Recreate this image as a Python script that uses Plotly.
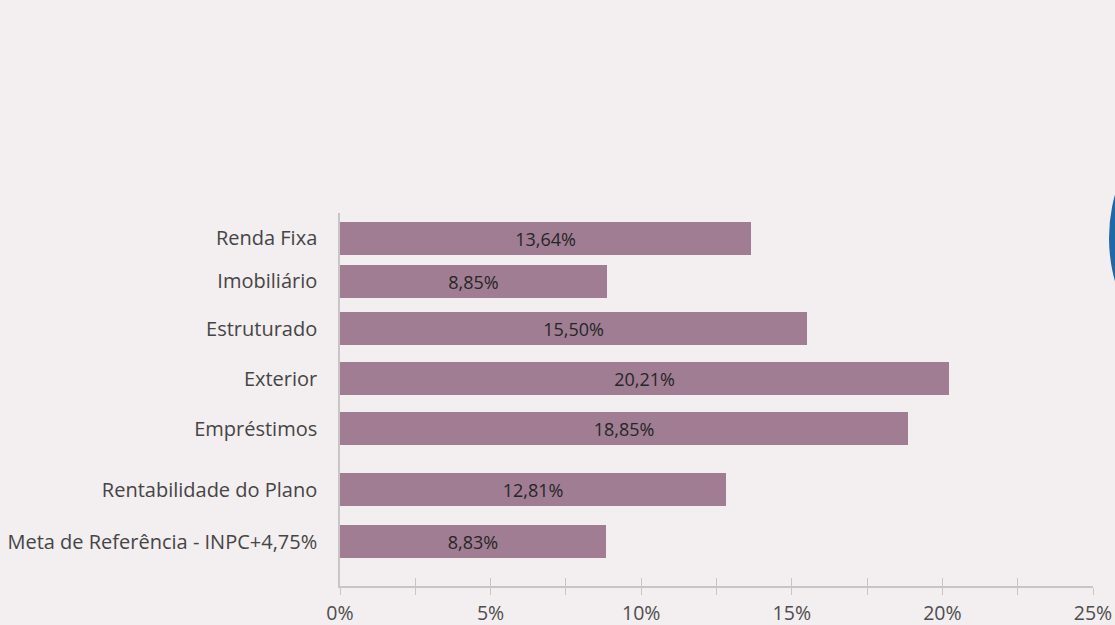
import plotly.graph_objects as go

categories = ["Renda Fixa", "Imobiliário", "Estruturado", "Exterior", "Empréstimos",
              "Rentabilidade do Plano", "Meta de Referência - INPC+4,75%"]
values = [13.64, 8.85, 15.50, 20.21, 18.85, 12.81, 8.83]
tick_values = [0, 2.5, 5, 7.5, 10, 12.5, 15, 17.5, 20, 22.5, 25]
tick_labels = ["0%", "", "5%", "", "10%", "", "15%", "", "20%", "", "25%"]

# layout: row positions (gap before the plan rows)
row_pos = [0, 0.86, 1.81, 2.81, 3.81, 5.03, 6.07]

BG = "#f3eef0"
BAR = "#a07d93"
AXIS = "#c9c5c7"
FONT = "Open Sans"

labels = [f"{v:.2f}".replace(".", ",") + "%" for v in values]

fig = go.Figure()
fig.add_trace(go.Bar(
    x=values, y=row_pos, orientation="h", width=0.66,
    marker=dict(color=BAR, line=dict(width=0)),
    text=labels, textposition="inside", insidetextanchor="middle", constraintext="none",
    textfont=dict(family=FONT, size=18, color="#262626"),
    hoverinfo="skip", showlegend=False,
))
# invisible trace to host the overlay axis (inward ticks)
fig.add_trace(go.Scatter(x=[0, 25], y=[0, 0], xaxis="x2", mode="markers",
                         marker=dict(opacity=0), hoverinfo="skip", showlegend=False))

fig.update_layout(
    width=1115, height=625,
    paper_bgcolor=BG, plot_bgcolor=BG,
    margin=dict(l=340, r=22, t=213, b=39, autoexpand=False),
    font=dict(family=FONT, size=19, color="#4a4a4a"),
    xaxis=dict(range=[0, 25], tickvals=tick_values, ticktext=tick_labels, automargin=False,
               showgrid=False, zeroline=False, showline=True, linecolor=AXIS, linewidth=1.5,
               ticks="outside", ticklen=7, tickcolor=AXIS, tickwidth=1.2, ticklabelstandoff=2,
               tickfont=dict(family=FONT, size=19.5, color="#4d4d4d"), fixedrange=True),
    xaxis2=dict(range=[0, 25], overlaying="x", side="bottom", anchor="y", automargin=False,
                tickvals=tick_values, showticklabels=False, showgrid=False, zeroline=False,
                ticks="inside", ticklen=8, tickcolor=AXIS, tickwidth=1.2, showline=False),
    yaxis=dict(range=[6.96, -0.5], tickvals=row_pos, ticktext=categories, automargin=False,
               showgrid=False, zeroline=False, showline=True, linecolor=AXIS, linewidth=1.5,
               ticks="", ticklabelstandoff=17,
               tickfont=dict(family=FONT, size=20, color="#454545"), fixedrange=True),
    bargap=0,
    shapes=[dict(type="circle", xref="paper", yref="paper",
                 x0=(1109 - 340) / 753, x1=(1429 - 340) / 753,
                 y0=(625 - 39 - 398) / 373, y1=(625 - 39 - 78) / 373,
                 fillcolor="#2367a6", line=dict(width=0), layer="above")],
)

fig.write_html("out.html", config={"displayModeBar": False},
               post_script="document.body.style.margin='0';document.body.style.overflow='hidden';")
